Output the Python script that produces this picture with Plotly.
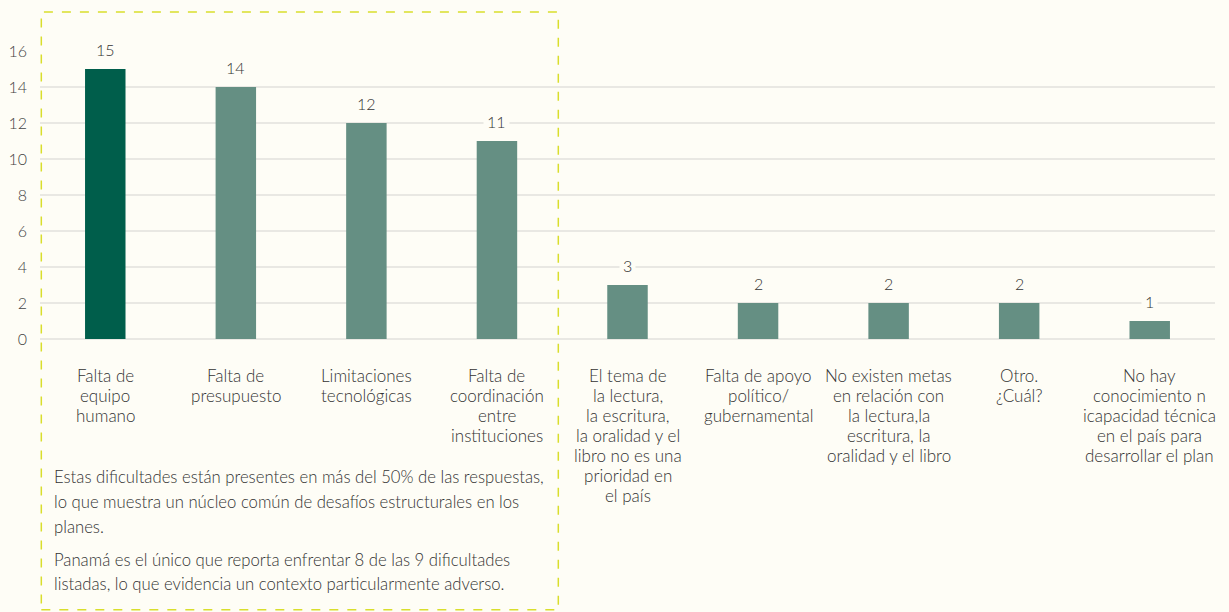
import plotly.graph_objects as go

categories = [
    "Falta de<br>equipo<br>humano",
    "Falta de<br>presupuesto",
    "Limitaciones<br>tecnológicas",
    "Falta de<br>coordinación<br>entre<br>instituciones",
    "El tema de<br>la lectura,<br>la escritura,<br>la oralidad y el<br>libro no es una<br>prioridad en<br>el país",
    "Falta de apoyo<br>político/<br>gubernamental",
    "No existen metas<br>en relación con<br>la lectura,la<br>escritura, la<br>oralidad y el libro",
    "Otro.<br>¿Cuál?",
    "No hay<br>conocimiento n<br>icapacidad técnica<br>en el país para<br>desarrollar el plan",
]
values = [15, 14, 12, 11, 3, 2, 2, 2, 1]
y_ticks = [0, 2, 4, 6, 8, 10, 12, 14, 16]
note_lines = [
    "Estas dificultades están presentes en más del 50% de las respuestas,",
    "lo que muestra un núcleo común de desafíos estructurales en los",
    "planes.",
]
note_lines2 = [
    "Panamá es el único que reporta enfrentar 8 de las 9 dificultades",
    "listadas, lo que evidencia un contexto particularmente adverso.",
]

BG = "#FEFDF6"
DARK = "#005E4B"
LIGHT = "#658F83"
FONT = "Lato"
TXT = "#333333"
W = 300
PLOT_H = 288  # plot height in px, used to convert pixel spacing to paper units

xs = list(range(len(categories)))
colors = [DARK] + [LIGHT] * (len(values) - 1)

fig = go.Figure()
fig.add_trace(go.Bar(x=xs, y=values, marker_color=colors, width=0.31,
                     marker_line_width=0, hoverinfo="skip"))

annotations = []
for x, v in zip(xs, values):
    annotations.append(dict(x=x, y=v, xref="x", yref="y", text=str(v),
                            showarrow=False, yanchor="bottom", yshift=6,
                            bgcolor=BG, borderpad=3,
                            font=dict(family=FONT, size=16, color=TXT, weight=W)))
cat_y0 = -36 / PLOT_H
cat_lh = 20 / PLOT_H
for x, c in zip(xs, categories):
    for i, line in enumerate(c.split("<br>")):
        annotations.append(dict(x=x, y=cat_y0 - i * cat_lh, xref="x", yref="paper", text=line,
                                showarrow=False, yanchor="middle", align="center",
                                font=dict(family=FONT, size=17, color=TXT, weight=W)))
note_y0 = -138 / PLOT_H
for i, t in enumerate(note_lines):
    annotations.append(dict(x=-0.405, y=note_y0 - i * 25 / PLOT_H, xref="x", yref="paper", text=t,
                            showarrow=False, xanchor="left", yanchor="middle", align="left",
                            font=dict(family=FONT, size=16.7, color=TXT, weight=W)))
note_y1 = -221 / PLOT_H
for i, t in enumerate(note_lines2):
    annotations.append(dict(x=-0.405, y=note_y1 - i * 24 / PLOT_H, xref="x", yref="paper", text=t,
                            showarrow=False, xanchor="left", yanchor="middle", align="left",
                            font=dict(family=FONT, size=16.7, color=TXT, weight=W)))

fig.add_shape(type="rect", xref="x", yref="paper", x0=-0.49, x1=3.47,
              y0=-0.94, y1=1.135, line=dict(color="#D9DE2C", width=1.5, dash="dash"),
              fillcolor="rgba(0,0,0,0)", layer="above")

fig.update_layout(
    width=1229, height=612,
    paper_bgcolor=BG, plot_bgcolor=BG,
    margin=dict(l=40, r=14, t=51, b=273, autoexpand=False),
    showlegend=False,
    annotations=annotations,
    xaxis=dict(range=[-0.5, 8.5], showticklabels=False, showgrid=False,
               zeroline=False, fixedrange=True, automargin=False),
    yaxis=dict(range=[0, 16], tickvals=y_ticks, showgrid=True, gridcolor="#E9E8E3",
               gridwidth=1.5, zeroline=True, zerolinecolor="#E9E8E3", zerolinewidth=1.5,
               tickfont=dict(family=FONT, size=16, color="#444444", weight=W),
               ticks="", ticklabelstandoff=12, fixedrange=True, automargin=False),
)

fig.write_html("out.html", config={"displayModeBar": False},
               post_script="document.body.style.margin='0';"
                           "document.body.style.background='#FEFDF6';"
                           "document.body.style.overflow='hidden';")
